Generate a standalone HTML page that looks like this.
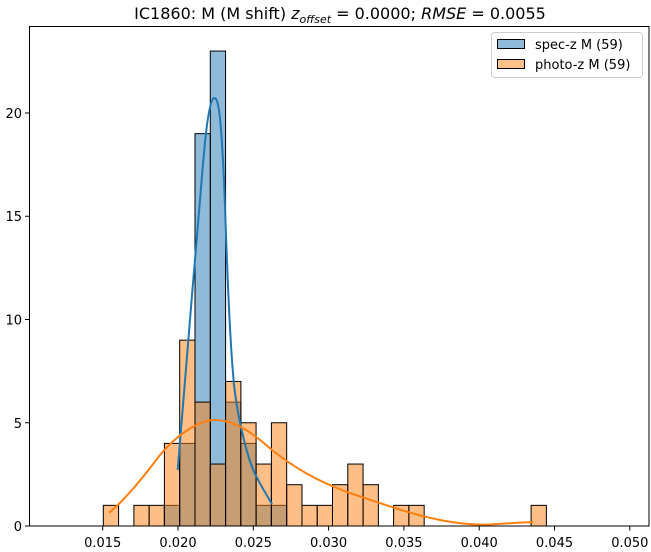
<!DOCTYPE html>
<html><head><meta charset="utf-8"><style>body{margin:0;background:#fff}svg{display:block}text{font-family:"DejaVu Sans","Liberation Sans",sans-serif;fill:#000}</style></head>
<body>
<svg width="651" height="552" viewBox="0 0 651 552" xmlns="http://www.w3.org/2000/svg">
<rect width="651" height="552" fill="#fff"/>
<line x1="58" y1="526" x2="622" y2="526" stroke="#bbb" stroke-width="1"/>
<g stroke="#000" stroke-width="1" fill="rgba(31,119,180,0.5)">
<rect x="164.4" y="505.35" width="15.28" height="20.65"/>
<rect x="179.7" y="443.4" width="15.28" height="82.6"/>
<rect x="195.0" y="133.65" width="15.28" height="392.35"/>
<rect x="210.3" y="51.05" width="15.28" height="474.95"/>
<rect x="225.6" y="402.1" width="15.28" height="123.9"/>
<rect x="240.8" y="443.4" width="15.28" height="82.6"/>
<rect x="256.1" y="505.35" width="15.28" height="20.65"/>
<rect x="271.4" y="505.35" width="15.28" height="20.65"/>
</g>
<g stroke="#000" stroke-width="1" fill="rgba(255,127,14,0.5)">
<rect x="103.3" y="505.35" width="15.28" height="20.65"/>
<rect x="133.9" y="505.35" width="15.28" height="20.65"/>
<rect x="149.1" y="505.35" width="15.28" height="20.65"/>
<rect x="164.4" y="443.4" width="15.28" height="82.6"/>
<rect x="179.7" y="340.15" width="15.28" height="185.85"/>
<rect x="195.0" y="402.1" width="15.28" height="123.9"/>
<rect x="210.3" y="464.05" width="15.28" height="61.95"/>
<rect x="225.6" y="381.45" width="15.28" height="144.55"/>
<rect x="240.8" y="422.75" width="15.28" height="103.25"/>
<rect x="256.1" y="464.05" width="15.28" height="61.95"/>
<rect x="271.4" y="422.75" width="15.28" height="103.25"/>
<rect x="286.7" y="484.7" width="15.28" height="41.3"/>
<rect x="302.0" y="505.35" width="15.28" height="20.65"/>
<rect x="317.2" y="505.35" width="15.28" height="20.65"/>
<rect x="332.5" y="484.7" width="15.28" height="41.3"/>
<rect x="347.8" y="464.05" width="15.28" height="61.95"/>
<rect x="363.1" y="484.7" width="15.28" height="41.3"/>
<rect x="393.6" y="505.35" width="15.28" height="20.65"/>
<rect x="408.9" y="505.35" width="15.28" height="20.65"/>
<rect x="531.1" y="505.35" width="15.28" height="20.65"/>
</g>
<path fill="none" stroke="#1f77b4" stroke-width="2" stroke-linejoin="round" d="M177.7,470 C184,400 192,290 200,200 C204,150 208,100 214,98 C219,97 221,120 224,180 C227,260 229,330 234,385 C238,420 248,462 256.7,477 C262,488 268,497 272,504"/>
<path fill="none" stroke="#ff7f0e" stroke-width="2" stroke-linejoin="round" d="M109,512.7 C125,500 145,475 160,455 C175,437 195,422 213,420 C235,419 255,435 272,450 C295,468 315,480 347,492 C380,503 410,514 440,520 C460,524 475,525 490,524.5 C505,523.5 520,522.5 533,522"/>
<g fill="none" stroke="#000" stroke-width="1">
<rect x="29.5" y="26.5" width="619.5" height="499.5"/>
</g>
<g stroke="#000" stroke-width="1">
<line x1="25" y1="526" x2="29.5" y2="526"/><line x1="25" y1="422.75" x2="29.5" y2="422.75"/><line x1="25" y1="319.5" x2="29.5" y2="319.5"/><line x1="25" y1="216.25" x2="29.5" y2="216.25"/><line x1="25" y1="113" x2="29.5" y2="113"/>
<line x1="102.7" y1="526" x2="102.7" y2="530.5"/><line x1="178" y1="526" x2="178" y2="530.5"/><line x1="253.3" y1="526" x2="253.3" y2="530.5"/><line x1="328.6" y1="526" x2="328.6" y2="530.5"/><line x1="403.9" y1="526" x2="403.9" y2="530.5"/><line x1="479.2" y1="526" x2="479.2" y2="530.5"/><line x1="554.5" y1="526" x2="554.5" y2="530.5"/><line x1="629.8" y1="526" x2="629.8" y2="530.5"/>
</g>
<g font-size="13" text-anchor="end">
<text x="22" y="531">0</text><text x="22" y="428">5</text><text x="22" y="324.5">10</text><text x="22" y="221">15</text><text x="22" y="118">20</text>
</g>
<g font-size="13" text-anchor="middle">
<text x="102.7" y="547">0.015</text><text x="178" y="547">0.020</text><text x="253.3" y="547">0.025</text><text x="328.6" y="547">0.030</text><text x="403.9" y="547">0.035</text><text x="479.2" y="547">0.040</text><text x="554.5" y="547">0.045</text><text x="629.8" y="547">0.050</text>
</g>
<text x="340" y="19" font-size="16" text-anchor="middle">IC1860: M (M shift) <tspan font-style="italic">z</tspan><tspan font-style="italic" font-size="11" dy="4">offset</tspan><tspan dy="-4"> = 0.0000; </tspan><tspan font-style="italic">RMSE</tspan> = 0.0055</text>
<rect x="491.5" y="32.5" width="151" height="45" rx="3" fill="#fff" fill-opacity="0.8" stroke="#ccc"/>
<rect x="497.5" y="39.5" width="27" height="9" fill="rgba(31,119,180,0.5)" stroke="#000"/>
<rect x="497.5" y="59.5" width="27" height="9" fill="rgba(255,127,14,0.5)" stroke="#000"/>
<text x="535" y="49" font-size="13">spec-z M (59)</text>
<text x="535" y="69" font-size="13">photo-z M (59)</text>
</svg>
</body></html>
